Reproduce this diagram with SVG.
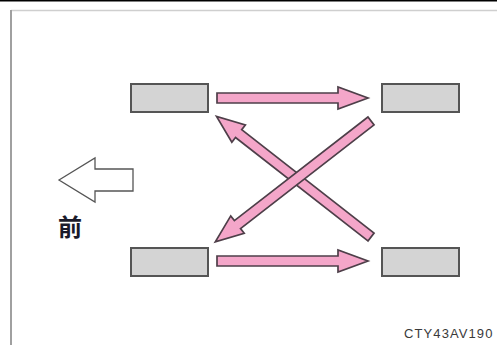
<svg xmlns="http://www.w3.org/2000/svg" width="497" height="345" viewBox="0 0 497 345">
<style>
.box{fill:#d4d4d4;stroke:#555;stroke-width:2}
.arr{fill:#f4a6c9;stroke:#4e3f49;stroke-width:1.7;stroke-linejoin:miter}
.front{fill:#fff;stroke:#555;stroke-width:1.3}
.lbl{font-family:"Noto Sans CJK SC","Noto Sans CJK JP",sans-serif;font-size:24px;font-weight:bold;fill:#1a1a2a}
.code{font-family:"Liberation Sans",Arial,sans-serif;font-size:13px;letter-spacing:1.1px;fill:#3a3a3a}
</style>
<rect x="0" y="0" width="497" height="345" fill="#fff"/>
<line x1="0" y1="0.8" x2="497" y2="0.8" stroke="#000" stroke-width="1.6"/>
<line x1="11" y1="10.5" x2="497" y2="10.5" stroke="#cfcfcf" stroke-width="1.5"/>
<line x1="11" y1="10" x2="11" y2="345" stroke="#a0a0a0" stroke-width="2"/>
<g id="wheel-front-left"><rect class="box" x="131" y="84" width="77" height="28"/></g>
<g id="wheel-rear-left"><rect class="box" x="382" y="84" width="77" height="28"/></g>
<g id="wheel-front-right"><rect class="box" x="131" y="248" width="77" height="28"/></g>
<g id="wheel-rear-right"><rect class="box" x="382" y="248" width="77" height="28"/></g>
<g id="connectors">
<polygon class="arr" points="217,93 338,93 338,87 368,98 338,109 338,103 217,103"/>
<polygon class="arr" points="217,256 338,256 338,250 368,261 338,272 338,266 217,266"/>
<polygon class="arr" transform="translate(371,237) rotate(218)" points="0,-5 168,-5 168,-11 196,0 168,11 168,5 0,5"/>
<polygon class="arr" transform="translate(371,121) rotate(142.2)" points="0,-5 169,-5 169,-11 197,0 169,11 169,5 0,5"/>
</g>
<g id="front-indicator">
<polygon class="front" points="59,180 95,158 95,169 133,169 133,191 95,191 95,202"/>
<text class="lbl" x="58" y="236">前</text>
</g>
<text class="code" x="404" y="338">CTY43AV190</text>
</svg>
